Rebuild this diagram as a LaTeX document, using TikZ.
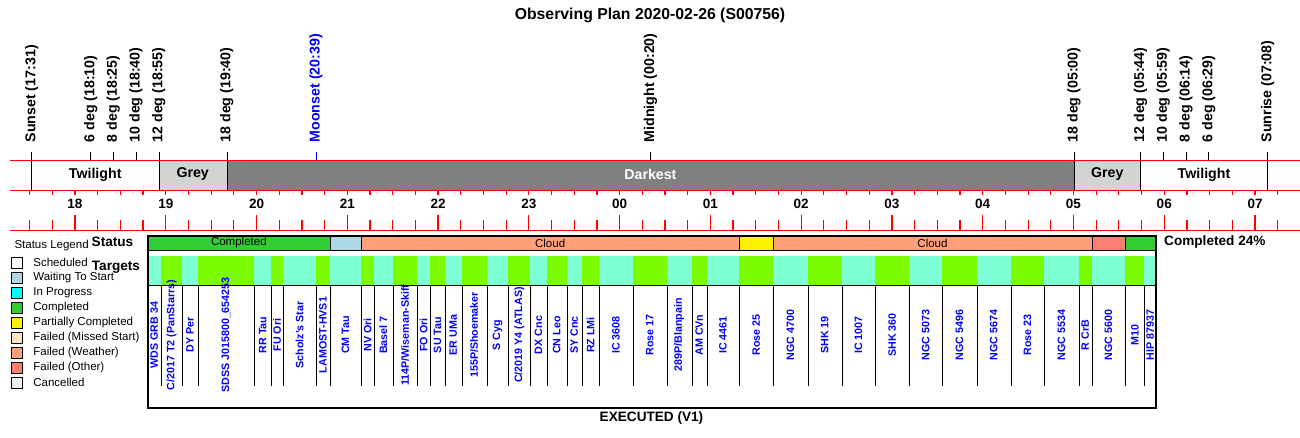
\documentclass[tikz,border=0pt]{standalone}
\usepackage{fontspec}
\setmainfont{Liberation Sans}
\usetikzlibrary{positioning}
\definecolor{aqua}{HTML}{7FFFD4}
\definecolor{lawn}{HTML}{7CFC00}
\definecolor{donegreen}{HTML}{32CD32}
\definecolor{waitblue}{HTML}{ADD8E6}
\definecolor{runcyan}{HTML}{00FFFF}
\definecolor{cloud}{HTML}{FFA07A}
\definecolor{failother}{HTML}{FA8072}
\definecolor{missed}{HTML}{FFE4C4}
\definecolor{cancel}{HTML}{F0F0F0}
\definecolor{greyband}{HTML}{D3D3D3}
\definecolor{darkband}{HTML}{808080}
\tikzset{
  evlabel/.style={rotate=90, anchor=west, inner sep=0pt, font=\fontsize{14.2}{14}\selectfont\bfseries},
  hourlabel/.style={inner sep=0pt, font=\fontsize{13.5}{14}\selectfont\bfseries},
  bandlabel/.style={inner sep=0pt, font=\fontsize{14.2}{14}\selectfont\bfseries},
  tgtlabel/.style={rotate=90, inner sep=0pt, text=blue, font=\fontsize{10.7}{11}\selectfont\bfseries},
  headlabel/.style={inner sep=0pt, font=\fontsize{13.6}{14}\selectfont\bfseries},
  segtext/.style={inner sep=0pt, font=\fontsize{11.5}{12}\selectfont},
  legtext/.style={anchor=west, inner sep=0pt, font=\fontsize{11.5}{12}\selectfont},
  legbox/.style={draw, minimum size=11pt, inner sep=0pt}
}
\begin{document}
\begin{tikzpicture}[x=1pt,y=-1pt]
\useasboundingbox (0,0) rectangle (1300,438);
\node[inner sep=0pt, font=\fontsize{15.8}{16}\selectfont\bfseries] (title) at (650,15) {Observing Plan 2020-02-26 (S00756)};
%bands
\fill[greyband] (158.7,160.3) rectangle (226.8,190.3);
\fill[darkband] (226.8,160.3) rectangle (1074,190.3);
\fill[greyband] (1074,160.3) rectangle (1140.5,190.3);
\foreach \x in {158.7,226.8,1074,1140.5,1267.6} \draw (\x,160.3) -- (\x,190.3);
\draw (31.6,152) -- (31.6,190.3);
\node[bandlabel] (twi1) at (95.2,174.5) {Twilight};
\node[bandlabel] (grey1) at (192.7,174.5) {Grey};
\node[bandlabel, text=white] (dark) at (650.4,174.5) {Darkest};
\node[bandlabel] (grey2) at (1107.2,174.5) {Grey};
\node[bandlabel] (twi2) at (1204,174.5) {Twilight};
%events
\foreach \tm/\lab/\col [count=\k] in {-0.4833/Sunset (17:31)/black, 0.1667/6 deg (18:10)/black,
    0.4167/8 deg (18:25)/black, 0.6667/10 deg (18:40)/black, 0.9167/12 deg (18:55)/black,
    1.6667/18 deg (19:40)/black, 2.65/Moonset (20:39)/blue, 6.3333/Midnight (00:20)/black,
    11/18 deg (05:00)/black, 11.7333/12 deg (05:44)/black, 11.9833/10 deg (05:59)/black,
    12.2333/8 deg (06:14)/black, 12.4833/6 deg (06:29)/black, 13.1333/Sunrise (07:08)/black} {
  \pgfmathsetmacro\x{75.5+90.77*\tm}
  \draw[\col] (\x,152) -- (\x,160.3);
  \node[evlabel, text=\col] (ev\k) at (\x,142.5) {\lab};
}
%ticks
\foreach \i in {0,...,55} {
  \pgfmathsetmacro\x{75+90.77*(\i-2)/4}
  \pgfmathsetmacro\len{mod(\i+2,4)==0 ? 15 : 10}
  \draw[red, line width=1.2pt] (\x,190.3) -- (\x,195);
  \draw[red, line width=1.2pt] (\x,{230.3-\len}) -- (\x,230.3);
}
\foreach \y in {160.3,190.3,230.3} \draw[red, line width=1.2pt] (10,\y) -- (1300,\y);
\foreach \h [count=\k from 0] in {18,19,20,21,22,23,00,01,02,03,04,05,06,07}
  \node[hourlabel] (h\k) at ({75+90.77*\k},204) {\h};
%status
\node[headlabel, anchor=east] (status) at (133.5,241.5) {Status};
\node[headlabel, anchor=west] (targets) at (91.7,267.5) {Targets};
\foreach \xa/\xb/\col/\lab [count=\k] in {147.7/330/donegreen/Completed, 330/361/waitblue/{},
    361/739.3/cloud/Cloud, 739.3/773.3/yellow/{}, 773.3/1091.7/cloud/Cloud,
    1091.7/1125.3/failother/{}, 1125.3/1156/donegreen/{}}
  \draw[fill=\col] (\xa,235.7) rectangle (\xb,250.3) node[segtext, midway] (s\k) {\lab};
\node[headlabel, anchor=west] (pct) at (1164,242) {Completed 24\%};
%targets
\foreach \xa/\xb/\col/\lab [count=\k] in {
    147.7/160.7/aqua/{WDS GRB 34}, 160.7/182.3/lawn/{C/2017 T2 (PanStarrs)},
    182.3/197.7/aqua/{DY Per}, 197.7/254.3/lawn/{SDSS J015800\_654253},
    254.3/271/aqua/{RR Tau}, 271/283.3/lawn/{FU Ori}, 283.3/316/aqua/{Scholz's Star},
    316/330/lawn/{LAMOST-HVS1}, 330/361/aqua/{CM Tau}, 361/374/lawn/{NV Ori},
    374/392.7/aqua/{Basel 7}, 392.7/417.3/lawn/{114P/Wiseman-Skiff}, 417.3/430/aqua/{FO Ori},
    430/445/lawn/{SU Tau}, 445/461.7/aqua/{ER UMa}, 461.7/486.7/lawn/{155P/Shoemaker},
    486.7/508.3/aqua/{S Cyg}, 508.3/530.3/lawn/{C/2019 Y4 (ATLAS)}, 530.3/546.7/aqua/{DX Cnc},
    546.7/566.7/lawn/{CN Leo}, 566.7/581.7/aqua/{SY Cnc}, 581.7/599.3/lawn/{RZ LMi},
    599.3/632.7/aqua/{IC 3608}, 632.7/666.7/lawn/{Rose 17}, 666.7/691.7/aqua/{289P/Blanpain},
    691.7/706.7/lawn/{AM CVn}, 706.7/739.3/aqua/{IC 4461}, 739.3/773.3/lawn/{Rose 25},
    773.3/807.7/aqua/{NGC 4700}, 807.7/841.7/lawn/{SHK 19}, 841.7/875/aqua/{IC 1007},
    875/909.3/lawn/{SHK 360}, 909.3/942.3/aqua/{NGC 5073}, 942.3/976.7/lawn/{NGC 5496},
    976.7/1010.7/aqua/{NGC 5674}, 1010.7/1044.3/lawn/{Rose 23}, 1044.3/1078.7/aqua/{NGC 5534},
    1078.7/1091.7/lawn/{R CrB}, 1091.7/1125.3/aqua/{NGC 5600}, 1125.3/1144.3/lawn/{M10},
    1144.3/1156/aqua/{HIP 87937}} {
  \fill[\col] (\xa,255.7) rectangle (\xb,285.3);
  \draw (\xb,255.7) -- (\xb,385.7);
  \node[tgtlabel] (t\k) at ({(\xa+\xb)/2},335) {\lab};
}
\draw (147.7,285.3) -- (1156,285.3);
\draw[line width=2.2pt] (147.7,235.7) rectangle (1156,407.7);
\node[headlabel] (exec) at (651.5,418) {EXECUTED (V1)};
%legend
\node[legtext] (leg) at (14.3,246) {Status Legend};
\foreach \col/\lab [count=\k from 0] in {white/Scheduled, waitblue/Waiting To Start, runcyan/In Progress,
    donegreen/Completed, yellow/Partially Completed, missed/Failed (Missed Start),
    cloud/Failed (Weather), failother/Failed (Other), cancel/Cancelled} {
  \node[legbox, fill=\col] (lb\k) at (16.5,{262.3+15*\k}) {};
  \node[legtext, right=11pt of lb\k] (lt\k) {\lab};
}
\end{tikzpicture}
\end{document}
